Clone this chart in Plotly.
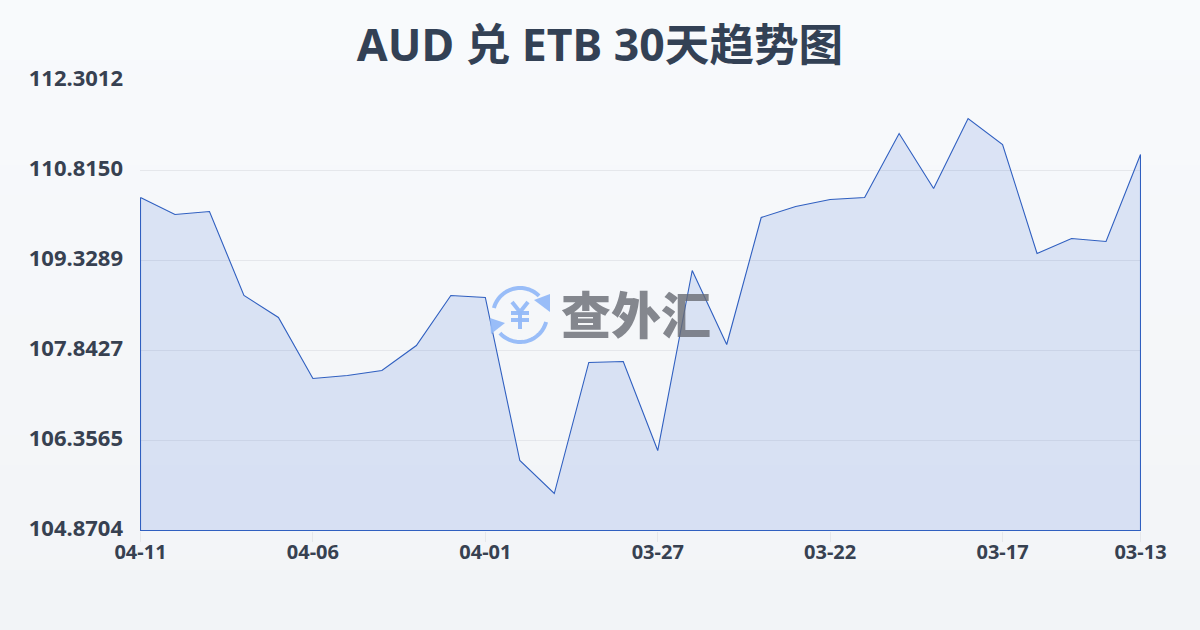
import numpy as np
import plotly.graph_objects as go

dates = ["04-11","04-10","04-09","04-08","04-07","04-06","04-05","04-04","04-03","04-02",
         "04-01","03-31","03-30","03-29","03-28","03-27","03-26","03-25","03-24","03-23",
         "03-22","03-21","03-20","03-19","03-18","03-17","03-16","03-15","03-14","03-13"]
rates = [110.369,110.089,110.138,108.751,108.388,107.380,107.430,107.512,107.925,108.751,
         108.718,106.026,105.481,107.645,107.661,106.191,109.164,107.942,110.039,110.221,
         110.336,110.369,111.426,110.518,111.674,111.244,109.445,109.692,109.643,111.079]
x_ticks = ["04-11","04-06","04-01","03-27","03-22","03-17","03-13"]
y_ticks = [104.8704,106.3565,107.8427,109.3289,110.8150,112.3012]
y_labels = ["104.8704","106.3565","107.8427","109.3289","110.8150","112.3012"]
title = "AUD 兑 ETB 30天趋势图"
watermark = "查外汇"

FONT = "'Noto Sans','Noto Sans CJK SC',sans-serif"
INK = "#374151"
W, H = 1200, 630
# the plot frame is one pixel larger than the data span so the axes land on half pixels
L, R, T, B = 140, 1141, 80, 531
half_x = 0.5 * (len(dates) - 1) / 1000
half_y = 0.5 * (y_ticks[-1] - y_ticks[0]) / 450

def px(x): return (x - L) / (R - L)
def py(y): return (B - y) / (B - T)

def poly(points, close=False):
    s = "M" + " L".join(f"{px(a):.5f},{py(b):.5f}" for a, b in points)
    return s + (" Z" if close else "")

def arc(cx, cy, r, a0, a1, n=40):
    t = np.radians(np.linspace(a0, a1, n))
    return [(cx + r*np.cos(v), cy - r*np.sin(v)) for v in t]

shapes = []
# page background: soft vertical gradient
top = np.array([248, 250, 252]); bot = np.array([242, 244, 247])
N = 42
for i in range(N):
    c = top + (bot - top) * i / (N - 1)
    shapes.append(dict(type="rect", xref="paper", yref="paper", layer="below", line_width=0,
                       x0=px(0), x1=px(W), y0=py(H*(i+1)/N + 1), y1=py(H*i/N),
                       fillcolor=f"rgb({c[0]:.0f},{c[1]:.0f},{c[2]:.0f})"))

# watermark logo
BLUE = "rgba(147,185,248,0.95)"
cx, cy, r = 520, 315, 27
for pts, close, fill in [
    (arc(cx, cy, r, 165, 45), False, None),
    (arc(cx, cy, r, -15, -138), False, None),
    ([(534, 300), (550, 294), (550, 312)], True, BLUE),
    ([(490, 318), (505, 323), (491, 334)], True, BLUE),
    ([(512, 302), (520, 312), (528, 302)], False, None),
    ([(511, 313), (529, 313)], False, None),
    ([(511, 320), (529, 320)], False, None),
    ([(520, 312), (520, 329)], False, None),
]:
    shapes.append(dict(type="path", xref="paper", yref="paper", layer="above",
                       path=poly(pts, close),
                       line=dict(color=BLUE, width=0 if close else 4),
                       fillcolor=fill if close else "rgba(0,0,0,0)"))

fig = go.Figure()
fig.add_trace(go.Scatter(
    x=dates + [dates[-1], dates[0], dates[0]],
    y=rates + [y_ticks[0], y_ticks[0], rates[0]],
    mode="lines", fill="toself", fillcolor="rgba(37,90,210,0.135)",
    line=dict(color="#2f5fc0", width=1.1), cliponaxis=False, hoverinfo="skip",
))

fig.update_layout(
    width=W, height=H, autosize=False, showlegend=False,
    margin=dict(l=L, r=W-R, t=T, b=H-B, pad=0),
    paper_bgcolor="#f6f8fa", plot_bgcolor="rgba(0,0,0,0)",
    font=dict(family=FONT, color=INK),
    title=dict(text=title, x=0.5, xanchor="center", xref="container",
               y=1-45/H, yanchor="middle", yref="container",
               font=dict(family=FONT, size=44.6, weight=700, color="#334155")),
    xaxis=dict(type="category", categoryorder="array", categoryarray=dates,
               range=[-half_x, len(dates)-1+half_x], tickmode="array", tickvals=x_ticks, ticktext=x_ticks,
               showgrid=False, zeroline=False, showline=False,
               ticks="outside", ticklen=10, tickwidth=1, tickcolor="#e5e7eb",
               ticklabelstandoff=-7,
               tickfont=dict(family=FONT, size=20, weight=700, color=INK)),
    yaxis=dict(range=[y_ticks[0]-half_y, y_ticks[-1]+half_y], tickmode="array", tickvals=y_ticks, ticktext=y_labels,
               showgrid=True, gridcolor="#e5e7eb", gridwidth=1, zeroline=False, showline=False,
               ticks="", ticklabelstandoff=16, ticklabelshift=-2,
               tickfont=dict(family=FONT, size=22, weight=700, color=INK)),
    shapes=shapes,
    annotations=[dict(text=watermark, xref="paper", yref="paper", x=px(636), y=py(312),
                      xanchor="center", yanchor="middle", showarrow=False, opacity=0.8,
                      font=dict(family="'Noto Sans CJK SC'", size=50, weight=900, color="#696c74"))],
)
fig.write_html("out.html", config={"displayModeBar": False},
               post_script="document.documentElement.style.margin='0';document.body.style.margin='0';document.body.style.overflow='hidden';")
